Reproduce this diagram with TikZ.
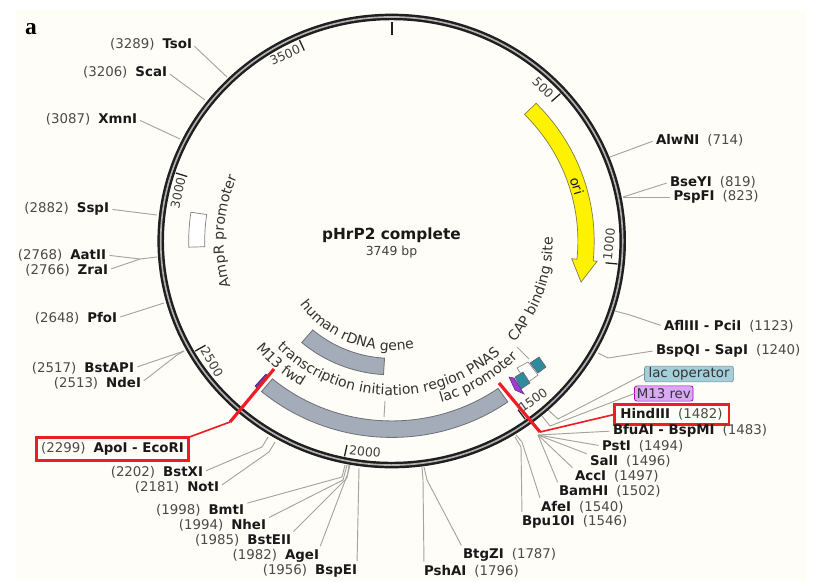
\documentclass[tikz,border=0pt]{standalone}
\usepackage{fontspec}
\setmainfont{DejaVu Sans}
\newfontfamily\panelfont{Liberation Serif}
\usetikzlibrary{decorations.text}
\definecolor{paper}{HTML}{FFFDF8}
\definecolor{leadgray}{HTML}{A4A4A0}
\definecolor{posgray}{HTML}{4A4A4A}
\definecolor{arcgray}{HTML}{A3ACB8}
\definecolor{arcedge}{HTML}{6C7278}
\definecolor{tealbox}{HTML}{2F8A9E}
\definecolor{opfill}{HTML}{A4CFDA}
\definecolor{revfill}{HTML}{D9A9F6}
\definecolor{lensfill}{HTML}{9B3FD0}
\definecolor{fwdfill}{HTML}{6A35B0}
\definecolor{markred}{HTML}{EE1C25}
\newcommand{\leftsite}[2]{\textcolor{posgray}{(#1)}\hspace{.6em}\textbf{#2}}
\newcommand{\rightsite}[2]{\textbf{#1}\hspace{.6em}\textcolor{posgray}{(#2)}}
\newcommand{\bodyfont}{\fontsize{11.4}{13}\selectfont}
\newcommand{\curvefont}{\fontsize{12}{14}\selectfont}
\tikzset{
	plasmid/.style={shift={(391.7,241)}, x=0.03cm, y=0.0291cm},
	site/.style={font=\bodyfont, text=black!90, inner sep=0pt, outer sep=0pt},
	leader/.style={draw=leadgray, line width=0.8pt, shorten <=3pt},
	ringline/.style={draw=black!88, line width=2.1pt, double=black!30, double distance=1.4pt},
	tickmark/.style={draw=black!88, line width=1.1pt},
	tickno/.style={font=\fontsize{10.6}{12}\selectfont, text=black!75, inner sep=0pt},
	arcfeat/.style={fill=arcgray, draw=arcedge, line width=0.7pt},
	tealfeat/.style={fill=tealbox, draw=black!60, line width=0.5pt},
	alongtext/.style={decorate, decoration={text along path, text align=center, text={|\curvefont\color{black!80}|#1}}},
	redline/.style={draw=markred, line width=2.7pt},
	redthin/.style={draw=markred, line width=1.4pt},
	redbox/.style={site, draw=markred, line width=2.4pt}
}
\begin{document}
\begin{tikzpicture}[x=0.03cm, y=-0.03cm]
	% Page and panel letter:
	\useasboundingbox (0,0) rectangle (819,581);
	\fill[white] (0,0) rectangle (819,581);
	\fill[paper] (16,10) rectangle (806,581);
	\node[font=\panelfont\bfseries\fontsize{20}{22}\selectfont, inner sep=0pt] (panel) at (31,29) {a};
	% Features on arcs:
	\begin{scope}[plasmid]
		\draw[fill=yellow, draw=black!45!yellow!80!black, line width=0.6pt] (44.5:202.5) arc[start angle=44.5, end angle=-5.8, radius=202.5] -- (-5.8:206.5) -- (-12.6:194) -- (-5.8:181) -- (-5.8:186.2) arc[start angle=-5.8, end angle=44.5, radius=186.2] -- cycle;
		\draw[arcfeat] (230:202.5) arc[start angle=230, end angle=305, radius=202.5] -- (305:185.5) arc[start angle=305, end angle=230, radius=185.5] -- cycle;
		\draw[arcfeat] (229.3:138) arc[start angle=229.3, end angle=266.6, radius=138] -- (266.6:121) arc[start angle=266.6, end angle=229.3, radius=121] -- cycle;
		\draw[fill=white, draw=black!50, line width=0.6pt] (171.6:203) arc[start angle=171.6, end angle=181.8, radius=203] -- (181.8:187) arc[start angle=181.8, end angle=171.6, radius=187] -- cycle;
	\end{scope}
	\draw[tealfeat] (530,363) -- (539,357) -- (546,367) -- (538,373) -- cycle;
	\draw[fill=white, draw=black!50, line width=0.5pt] (517,368) -- (528,362) -- (538,375) -- (527,383) -- cycle;
	\draw[tealfeat] (515,377) -- (523,372) -- (530,383) -- (521,389) -- cycle;
	\draw[fill=lensfill, draw=lensfill!70!black, line width=0.5pt] (509,377) -- (514,378) -- (524,394) -- (515,390) -- cycle;
	\draw[fill=fwdfill, draw=fwdfill!70!black, line width=0.5pt] (255,386) -- (266,374) -- (268,376) -- (257,388) -- cycle;
	% Feature names:
	\begin{scope}[plasmid]
		\path[alongtext=human rDNA gene] (214:113) arc[start angle=214, end angle=283, radius=113];
		\path[alongtext=transcription initiation region PNAS] (220:159) arc[start angle=220, end angle=317, radius=159];
		\path[alongtext=lac promoter] (285:174) arc[start angle=285, end angle=318, radius=174];
		\path[alongtext=M13 fwd] (217:175) arc[start angle=217, end angle=241, radius=175];
		\path[alongtext=CAP binding site] (-43:161) arc[start angle=-43, end angle=4, radius=161];
		\path[alongtext=AmpR promoter] (197:168) arc[start angle=197, end angle=156, radius=168];
	\end{scope}
	\node[site, rotate=-73] (ori) at (577,186) {ori};
	\draw[leader, shorten <=0pt] (385,401) -- (384,417);
	\draw[leader, shorten <=0pt] (517,347) -- (529,359);
	% Middle title:
	\node[font=\fontsize{13.1}{15}\selectfont\bfseries, text=black!90, inner sep=0pt] (title) at (391.5,235.5) {pHrP2 complete};
	\node[font=\fontsize{10.6}{12}\selectfont, text=black!75, inner sep=0pt] (size) at (391.5,252) {3749 bp};
	% Sites on the left:
	\node[site, anchor=east] (tsoI) at (192,44) {\leftsite{3289}{TsoI}};
	\node[site, anchor=east] (scaI) at (167,72) {\leftsite{3206}{ScaI}};
	\node[site, anchor=east] (xmnI) at (137,119) {\leftsite{3087}{XmnI}};
	\node[site, anchor=east] (sspI) at (109,209) {\leftsite{2882}{SspI}};
	\node[site, anchor=east] (aatII) at (106,255) {\leftsite{2768}{AatII}};
	\node[site, anchor=east] (zraI) at (108,270) {\leftsite{2766}{ZraI}};
	\node[site, anchor=east] (pfoI) at (117,318) {\leftsite{2648}{PfoI}};
	\node[site, anchor=east] (bstAPI) at (134,368) {\leftsite{2517}{BstAPI}};
	\node[site, anchor=east] (ndeI) at (141,383) {\leftsite{2513}{NdeI}};
	\node[redbox, minimum width=130pt, minimum height=20pt] (apoI) at (112.5,449) {\leftsite{2299}{ApoI - EcoRI}};
	\node[site, anchor=east] (bstXI) at (203,472) {\leftsite{2202}{BstXI}};
	\node[site, anchor=east] (notI) at (219,487) {\leftsite{2181}{NotI}};
	\node[site, anchor=east] (bmtI) at (244,510) {\leftsite{1998}{BmtI}};
	\node[site, anchor=east] (nheI) at (266,525) {\leftsite{1994}{NheI}};
	\node[site, anchor=east] (bstEII) at (291,540) {\leftsite{1985}{BstEII}};
	\node[site, anchor=east] (ageI) at (319,556) {\leftsite{1982}{AgeI}};
	\node[site, anchor=east] (bspEI) at (357,571) {\leftsite{1956}{BspEI}};
	% Sites on the right:
	\node[site, anchor=west] (alwNI) at (656,140) {\rightsite{AlwNI}{714}};
	\node[site, anchor=west] (bseYI) at (670,182) {\rightsite{BseYI}{819}};
	\node[site, anchor=west] (pspFI) at (673.5,197) {\rightsite{PspFI}{823}};
	\node[site, anchor=west] (aflIII) at (664,326.5) {\rightsite{AflIII - PciI}{1123}};
	\node[site, anchor=west] (bspQI) at (656,350.5) {\rightsite{BspQI - SapI}{1240}};
	\node[site, anchor=west, fill=opfill, draw=opfill!70!black, line width=0.5pt, rounded corners=2pt, minimum width=76pt, minimum height=13.5pt, text=black!80] (lacop) at (644.5,374) {lac operator};
	\node[site, anchor=west, fill=revfill, draw=violet!60!magenta, line width=0.6pt, rounded corners=2pt, minimum width=50pt, minimum height=13pt, text=black!80] (m13rev) at (634.5,393.5) {M13 rev};
	\node[redbox, minimum width=98pt, minimum height=17.5pt] (hindIII) at (671.5,414.5) {\rightsite{HindIII}{1482}};
	\node[site, anchor=west] (bfuAI) at (613,431) {\rightsite{BfuAI - BspMI}{1483}};
	\node[site, anchor=west] (pstI) at (602,446) {\rightsite{PstI}{1494}};
	\node[site, anchor=west] (salI) at (590,461) {\rightsite{SalI}{1496}};
	\node[site, anchor=west] (accI) at (575,476) {\rightsite{AccI}{1497}};
	\node[site, anchor=west] (bamHI) at (559,491.5) {\rightsite{BamHI}{1502}};
	\node[site, anchor=west] (afeI) at (541,507) {\rightsite{AfeI}{1540}};
	\node[site, anchor=west] (bpu10I) at (522,522) {\rightsite{Bpu10I}{1546}};
	\node[site, anchor=west] (btgZI) at (463,555) {\rightsite{BtgZI}{1787}};
	\node[site, anchor=west] (pshAI) at (424,571) {\rightsite{PshAI}{1796}};
	% Ring points:
	\coordinate (fanpoint) at (538,435);
	\coordinate (lowgroup) at (345,465);
	% Leaders:
	\draw[leader] (tsoI.east) -- (227,77);
	\draw[leader] (scaI.east) -- (205,100);
	\draw[leader] (xmnI.east) -- (180,139);
	\draw[leader] (sspI.east) -- (157,215);
	\draw[leader] (aatII.east) -- (140,259) -- (157,257);
	\draw[leader] (zraI.east) -- (140,259);
	\draw[leader] (pfoI.east) -- (164,303);
	\draw[leader] (bstAPI.east) -- (184,351);
	\draw[leader] (ndeI.east) -- (177,355) -- (184,351);
	\draw[leader] (bstXI.east) -- (262,447) -- (268,437);
	\draw[leader] (notI.east) -- (269,452) -- (275,442);
	\draw[leader] (bmtI.north east) -- (342,477) -- (lowgroup);
	\draw[leader] (nheI.north east) -- (343,480) -- (347,465);
	\draw[leader] (bstEII.north east) -- (347,478) -- (349,465);
	\draw[leader] (ageI.north east) -- (348,473) -- (350,465);
	\draw[leader] (bspEI.north east) -- (359,468);
	\draw[leader] (alwNI.west) -- (610,157);
	\draw[leader] (bseYI.west) -- (623,197);
	\draw[leader] (pspFI.west) -- (623,197);
	\draw[leader] (aflIII.west) -- (630,315) -- (615,311);
	\draw[leader] (bspQI.west) -- (608,358) -- (598,353);
	\draw[leader, shorten <=0pt] (lacop.west) -- (558,419) -- (547,409);
	\draw[leader, shorten <=0pt] (m13rev.west) -- (550,426) -- (542,416);
	\draw[leader] (bfuAI.west) -- (fanpoint);
	\draw[leader] (pstI.west) -- (fanpoint);
	\draw[leader] (salI.north west) -- (fanpoint);
	\draw[leader] (accI.north west) -- (fanpoint);
	\draw[leader] (bamHI.north west) -- (fanpoint);
	\draw[leader] (afeI.north west) -- (522,442) -- (516,435);
	\draw[leader] (bpu10I.north west) -- (521,447) -- (515,437);
	\draw[leader] (btgZI.north west) -- (427,480) -- (424,467);
	\draw[leader] (pshAI.north west) -- (423,480) -- (422,467);
	% Ring, ticks and numbers:
	\begin{scope}[plasmid]
		\draw[ringline] (0,0) circle[radius=231];
		\draw[draw=black!88, line width=1.8pt] (90:226) -- (90:212);
		\foreach \tickangle in {42,-6,-54,-102,-150,162,114}
			\draw[tickmark] (\tickangle:227) -- (\tickangle:215);
	\end{scope}
	\node[tickno, rotate=-45] (no500) at (543,88) {500};
	\node[tickno, rotate=84] (no1000) at (609,244) {1000};
	\node[tickno, rotate=36] (no1500) at (533,400) {1500};
	\node[tickno, rotate=-6] (no2000) at (365,451.5) {2000};
	\node[tickno, rotate=-60] (no2500) at (212,362) {2500};
	\node[tickno, rotate=78] (no3000) at (178,193) {3000};
	\node[tickno, rotate=24] (no3500) at (285,55) {3500};
	% Red marks:
	\coordinate (redleftin) at (274,369);
	\coordinate (redleftout) at (230,422);
	\coordinate (redrightin) at (499,383);
	\coordinate (redrightout) at (540,432);
	\draw[redline] (redleftin) -- (redleftout);
	\draw[redthin] (redleftout) -- (apoI.north east);
	\draw[redline] (redrightin) -- (redrightout);
	\draw[redthin] (redrightout) -- (hindIII.west);
\end{tikzpicture}
\end{document}
